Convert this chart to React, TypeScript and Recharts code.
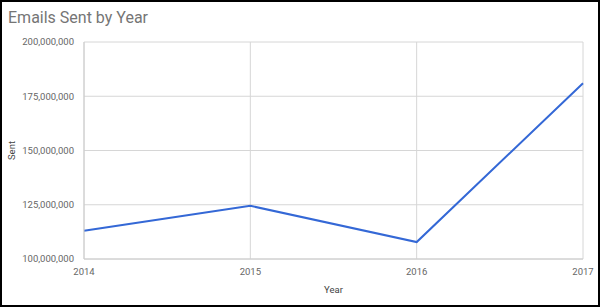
import React from "react";
import { LineChart, Line, XAxis, YAxis, CartesianGrid, Label } from "recharts";

const years = ["2014", "2015", "2016", "2017"];
const sent = [113000000, 124500000, 107800000, 181000000];
const yTicks = [100000000, 125000000, 150000000, 175000000, 200000000];

const data = years.map((year, i) => ({ year, sent: sent[i] }));

const font = "Roboto, 'Noto Sans', sans-serif";
const fmt = (v: number) => v.toLocaleString("en-US");

export default function App() {
  return (
    <div
      style={{
        position: "fixed",
        top: 0,
        left: 0,
        width: 600,
        height: 307,
        boxSizing: "border-box",
        border: "2px solid #000",
        background: "#fff",
        fontFamily: font,
      }}
    >
      <div
        style={{
          position: "absolute",
          left: 6,
          top: 6,
          fontSize: 16,
          color: "#757575",
        }}
      >
        Emails Sent by Year
      </div>
      <LineChart
        width={596}
        height={303}
        data={data}
        margin={{ top: 40, right: 15, bottom: 6, left: 0 }}
      >
        <CartesianGrid stroke="#d6d6d6" strokeWidth={1} />
        <XAxis
          dataKey="year"
          tickLine={false}
          axisLine={{ stroke: "#cccccc" }}
          tick={{ fontSize: 9.5, fill: "#666", fontFamily: font }}
          tickMargin={3}
          height={40}
        >
          <Label
            value="Year"
            position="insideBottom"
            offset={6}
            style={{ fontSize: 9.5, fill: "#444", fontFamily: font }}
          />
        </XAxis>
        <YAxis
          domain={[100000000, 200000000]}
          ticks={yTicks}
          tickFormatter={fmt}
          tickLine={false}
          axisLine={{ stroke: "#cccccc" }}
          tick={{ fontSize: 9.5, fill: "#666", fontFamily: font }}
          tickMargin={4}
          width={82}
        >
          <Label
            value="Sent"
            angle={-90}
            position="insideLeft"
            offset={10}
            style={{ fontSize: 9.5, fill: "#444", fontFamily: font, textAnchor: "middle" }}
          />
        </YAxis>
        <Line
          type="linear"
          dataKey="sent"
          stroke="#3468d6"
          strokeWidth={2}
          dot={false}
          isAnimationActive={false}
        />
      </LineChart>
    </div>
  );
}
